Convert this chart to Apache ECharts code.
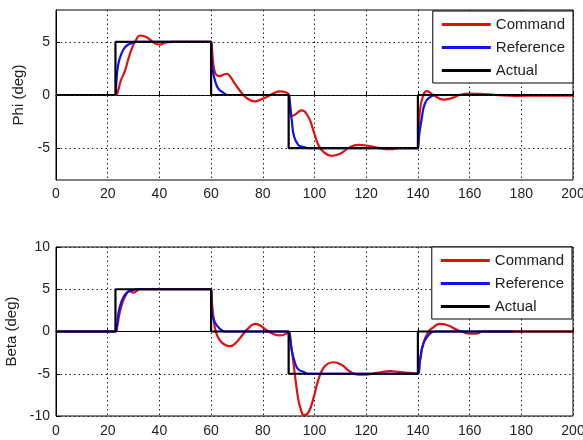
<!DOCTYPE html>
<html>
<head>
<meta charset="utf-8">
<script src="https://cdn.jsdelivr.net/npm/echarts@6/dist/echarts.min.js"></script>
<style>
html,body{margin:0;padding:0;background:#fff;}
#chart{width:583px;height:440px;}
</style>
</head>
<body>
<div id="chart"></div>
<script>
// ---- data (time in s, angle in deg) ----
const seriesNames = ['Command', 'Reference', 'Actual'];
const xTicks = [0, 20, 40, 60, 80, 100, 120, 140, 160, 180, 200];
const phiTicks = [-5, 0, 5];
const betaTicks = [-10, -5, 0, 5, 10];

const phiActual = [[0,0],[23,0],[23,5],[60,5],[60,0],[90,0],[90,-5],[140,-5],[140,0],[200,0]];
const betaActual = [[0,0],[23,0],[23,5],[60,5],[60,0],[90,0],[90,-5],[140,-5],[140,0],[200,0]];

const phiReference = [[0,0],[23,0],[23.3,1.0],[23.6,2.0],[24.1,2.9],[24.8,3.55],[25.7,4.1],[26.7,4.5],[28,4.75],[29.3,4.88],[31,5],[60,5],
  [60.2,3.2],[60.7,2.2],[61.5,1.37],[62.8,0.6],[64.7,0.22],[66.5,0],[90,0],[90.4,-0.5],[90.8,-1.5],[91.2,-2.36],[92.1,-3.9],[93.7,-4.7],
  [95,-4.85],[96.3,-4.93],[97.5,-5],[140,-5],[140.2,-4.5],[140.7,-3.4],[141.4,-2.36],[142.7,-0.8],[144.7,-0.19],[147,0],[177,0]];

const phiCommand = [[0,0],[23,0],[24,0.4],[25,1.3],[26.7,2.3],[28,3.4],[29.3,4.34],[31,5.2],[32.5,5.6],[34.5,5.5],[36.4,5.2],[38,4.9],
  [40.2,4.75],[42,4.9],[45,5],[60,5],[60.5,3.8],[61.2,2.4],[62.2,1.84],[63.4,1.78],[64.7,1.9],[66,2.0],[67.5,1.7],[69.2,1.06],[71,0.45],
  [72.5,0],[74.5,-0.4],[77,-0.6],[79,-0.45],[81.5,-0.19],[84,0.15],[86.7,0.35],[89.2,0.22],[90,0.05],[90.5,-1.0],[91.2,-2.0],[92.5,-1.85],
  [95,-1.45],[97.6,-2.05],[99.5,-3.3],[101.5,-4.7],[103.4,-5.33],[106.6,-5.73],[109.9,-5.54],[113.1,-5.0],[117,-4.7],[120,-4.75],
  [125.3,-5.0],[129.2,-5.1],[133,-5.0],[140,-5.0],[140.3,-4.2],[140.8,-1.43],[142.1,0],[143.4,0.37],[146,0],[149.8,-0.43],[153.7,-0.25],
  [156,0],[160,0.13],[164,0.1],[170,0],[178,-0.08],[186,-0.05],[200,-0.05]];

const betaReference = [[0,0],[23,0],[23.5,0.5],[24.1,2.05],[25.4,3.6],[27.3,4.57],[29.5,4.85],[31,5],[60,5],[60.2,2.44],[61.5,1.08],
  [63.4,0.31],[65.5,0],[90,0],[90.3,-0.27],[91.2,-2.2],[92.5,-3.76],[93.7,-4.46],[95.7,-4.77],[97.5,-5],[140,-5],[140.8,-3.37],
  [142.1,-1.43],[144,-0.47],[146.5,0],[177,0]];

const betaCommand = [[0,0],[23,0],[23.8,0.8],[24.5,2.0],[25.6,3.3],[27,4.3],[28.5,4.8],[29.9,4.6],[31,4.75],[32.5,5],[60,5],[60.3,3.5],
  [61,1.5],[61.8,0],[63.4,-1.05],[65.5,-1.6],[67.3,-1.74],[69.9,-1.24],[72.5,-0.27],[74.5,0.4],[77,0.9],[79,0.7],[80.8,0.31],[84,-0.27],
  [86.7,-0.47],[89.5,-0.2],[90,-0.1],[91.2,-2.2],[92.5,-5.3],[93.7,-8.0],[94.8,-9.3],[95.9,-9.9],[97.6,-9.6],[99.5,-8.0],[101.5,-5.7],
  [103.4,-4.34],[105.3,-3.8],[107.3,-3.64],[110.5,-3.95],[113.7,-4.73],[117,-5.12],[120.3,-5.1],[124.1,-4.9],[129.2,-4.7],[132.4,-4.77],
  [136,-4.9],[140,-5],[140.8,-3.5],[142.1,-1.43],[144,-0.08],[146,0.5],[148.5,0.9],[151.8,0.7],[155,0.2],[157,0],[160,-0.25],
  [162.7,-0.25],[165,0],[200,0]];

// ---- chart ----
const FONT = 'Liberation Sans, Arial, sans-serif';
const colors = {Command: '#e01010', Reference: '#1010f0', Actual: '#000000'};
const gridDash = [1.5, 3];

function xAxisDef(gridIndex, margin) {
  return {
    type: 'value', gridIndex, min: 0, max: 200, interval: 20,
    axisLine: {show: true, lineStyle: {color: '#000', width: 1}},
    axisTick: {show: true, inside: true, length: 4, lineStyle: {color: '#000'}},
    axisLabel: {color: '#222', fontSize: 14, fontFamily: FONT, margin: margin},
    splitLine: {show: true, lineStyle: {color: '#222', type: gridDash, width: 1}}
  };
}

const option = {
  backgroundColor: '#fff',
  animation: false,
  grid: [
    {left: 56, top: 10, width: 517, height: 170, show: true, borderColor: '#000', borderWidth: 1,
     backgroundColor: 'transparent', containLabel: false, outerBoundsMode: 'none'},
    {left: 56, top: 247, width: 517, height: 169, show: true, borderColor: '#000', borderWidth: 1,
     backgroundColor: 'transparent', containLabel: false, outerBoundsMode: 'none'}
  ],
  legend: [
    {data: seriesNames, orient: 'vertical', right: 10, top: 11, itemWidth: 49, itemHeight: 3, icon: 'rect', itemGap: 8,
     padding: [6, 8, 5, 9], borderColor: '#000', borderWidth: 1, backgroundColor: '#fff', borderRadius: 0,
     textStyle: {color: '#222', fontSize: 15, fontFamily: FONT}, selectedMode: false, z: 20},
    {data: seriesNames, orient: 'vertical', right: 11, top: 247, itemWidth: 49, itemHeight: 3, icon: 'rect', itemGap: 8,
     padding: [6, 8, 5, 9], borderColor: '#000', borderWidth: 1, backgroundColor: '#fff', borderRadius: 0,
     textStyle: {color: '#222', fontSize: 15, fontFamily: FONT}, selectedMode: false, z: 20}
  ],
  xAxis: [xAxisDef(0, 7), xAxisDef(1, 8)],
  yAxis: [
    {type: 'value', gridIndex: 0, min: -8, max: 8,
     name: 'Phi (deg)', nameLocation: 'middle', nameGap: 24, nameRotate: 90,
     nameTextStyle: {color: '#222', fontSize: 15, fontFamily: FONT},
     axisLine: {show: true, lineStyle: {color: '#000', width: 1}},
     axisTick: {show: true, inside: true, length: 4, customValues: phiTicks, lineStyle: {color: '#000'}},
     axisLabel: {color: '#222', fontSize: 14, fontFamily: FONT, margin: 6, customValues: phiTicks},
     splitLine: {show: false}},
    {type: 'value', gridIndex: 1, min: -10, max: 10, interval: 5,
     name: 'Beta (deg)', nameLocation: 'middle', nameGap: 30, nameRotate: 90,
     nameTextStyle: {color: '#222', fontSize: 15, fontFamily: FONT},
     axisLine: {show: true, lineStyle: {color: '#000', width: 1}},
     axisTick: {show: true, inside: true, length: 4, lineStyle: {color: '#000'}},
     axisLabel: {color: '#222', fontSize: 14, fontFamily: FONT, margin: 6},
     splitLine: {show: true, lineStyle: {color: '#222', type: gridDash, width: 1}}}
  ],
  series: []
};

// dotted horizontal grid lines for the top plot (tick values)
option.series.push({
  type: 'line', xAxisIndex: 0, yAxisIndex: 0, data: [], z: 1, silent: true,
  markLine: {silent: true, symbol: 'none', label: {show: false}, animation: false,
    lineStyle: {color: '#222', type: gridDash, width: 1},
    data: phiTicks.map(v => ({yAxis: v}))}
});

function addSeries(name, data, gi, z) {
  option.series.push({
    name, type: 'line', xAxisIndex: gi, yAxisIndex: gi, data,
    showSymbol: false, symbol: 'none', smooth: name === 'Actual' ? false : 0.5,
    lineStyle: {color: colors[name], width: 2.2}, itemStyle: {color: colors[name]}, z
  });
}
addSeries('Command', phiCommand, 0, 2);
addSeries('Reference', phiReference, 0, 3);
addSeries('Actual', phiActual, 0, 4);
addSeries('Command', betaCommand, 1, 2);
addSeries('Reference', betaReference, 1, 3);
addSeries('Actual', betaActual, 1, 4);

const chart = echarts.init(document.getElementById('chart'), null, {renderer: 'canvas'});
chart.setOption(option);
</script>
</body>
</html>
